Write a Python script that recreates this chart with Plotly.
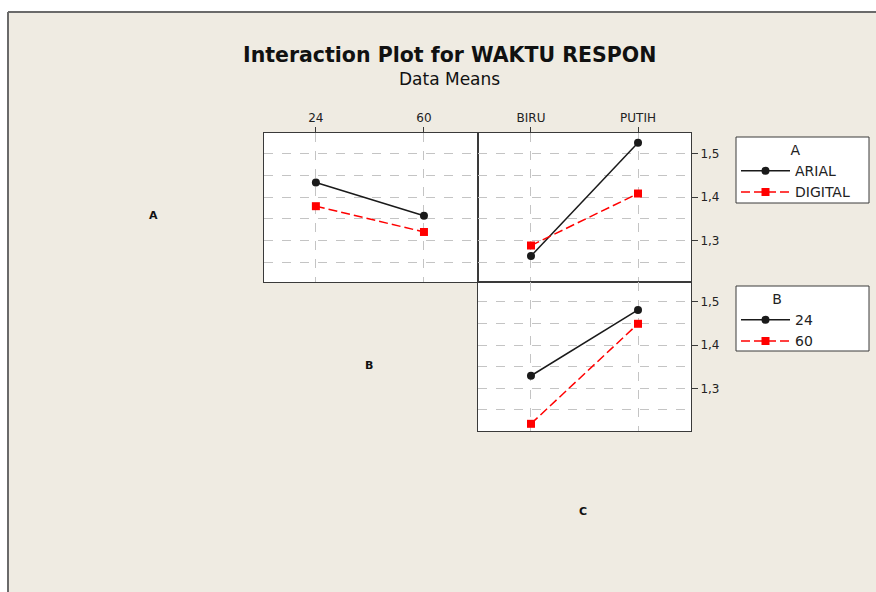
import plotly.graph_objects as go

# ---- data (means of WAKTU RESPON) ----
levels_B = ["24", "60"]
levels_C = ["BIRU", "PUTIH"]
A_names = ["ARIAL", "DIGITAL"]
B_names = ["24", "60"]

AB_arial = [1.433, 1.357]      # A=ARIAL across B
AB_digital = [1.379, 1.320]    # A=DIGITAL across B
AC_arial = [1.265, 1.524]      # A=ARIAL across C
AC_digital = [1.289, 1.408]    # A=DIGITAL across C
BC_24 = [1.329, 1.481]         # B=24 across C
BC_60 = [1.218, 1.449]         # B=60 across C
y_ticks = [1.3, 1.4, 1.5]

W, H = 876, 592
def px(x): return x / W
def py(y): return 1 - y / H

BLACK = "#1a1a1a"
RED = "#ff0000"
GRID = "#c4c4c4"
BEIGE = "#efebe2"
EDGE = "#3a3a3a"
FONT = "DejaVu Sans"

fig = go.Figure()

def add_pair(xs, y1, y2, xa, ya, n1, n2, legend, show):
    fig.add_trace(go.Scatter(x=xs, y=y1, xaxis=xa, yaxis=ya, name=n1, legend=legend,
                             showlegend=show, mode="lines+markers",
                             line=dict(color=BLACK, width=1.5),
                             marker=dict(symbol="circle", size=8, color=BLACK)))
    fig.add_trace(go.Scatter(x=xs, y=y2, xaxis=xa, yaxis=ya, name=n2, legend=legend,
                             showlegend=show, mode="lines+markers",
                             line=dict(color=RED, width=1.5, dash="9px,4px"),
                             marker=dict(symbol="square", size=8, color=RED)))

add_pair(levels_B, AB_arial, AB_digital, "x", "y", A_names[0], A_names[1], "legend", True)
add_pair(levels_C, AC_arial, AC_digital, "x2", "y2", A_names[0], A_names[1], "legend", False)
add_pair(levels_C, BC_24, BC_60, "x3", "y3", B_names[0], B_names[1], "legend2", True)

xdom1 = [px(264), px(478)]
xdom2 = [px(478), px(691)]
ydom_top = [py(282), py(133)]
ydom_bot = [py(431), py(282)]

common_x = dict(type="category", showline=True, mirror=True, linecolor=EDGE, linewidth=1,
                showgrid=True, gridcolor=GRID, griddash="dash", gridwidth=1,
                zeroline=False, tickfont=dict(family=FONT, size=12, color="#222"),
                fixedrange=True)
common_y = dict(showline=True, mirror=True, linecolor=EDGE, linewidth=1,
                showgrid=True, gridcolor=GRID, griddash="dash", gridwidth=1,
                tickmode="array", tickvals=y_ticks, zeroline=False,
                minor=dict(dtick=0.05, tick0=1.0, showgrid=True, gridcolor=GRID,
                           griddash="dash", gridwidth=1, ticks=""),
                tickfont=dict(family=FONT, size=12, color="#222"), fixedrange=True)

leg_common = dict(xanchor="left", yanchor="top", bgcolor="rgba(0,0,0,0)", borderwidth=0,
                  font=dict(family=FONT, size=14, color="#222"), itemwidth=49,
                  tracegroupgap=0, itemclick=False, itemdoubleclick=False)

fig.update_layout(
    width=W, height=H,
    margin=dict(l=0, r=0, t=0, b=0),
    paper_bgcolor=BEIGE, plot_bgcolor="white",
    separators=",.",
    xaxis=dict(common_x, domain=xdom1, anchor="y", side="top", range=[-0.48, 1.5],
               ticks="outside", ticklen=5, tickcolor=EDGE),
    yaxis=dict(common_y, domain=ydom_top, anchor="x", range=[1.2055, 1.5465],
               showticklabels=False, ticks=""),
    xaxis2=dict(common_x, domain=xdom2, anchor="y2", side="top", range=[-0.495, 1.495],
                ticks="outside", ticklen=5, tickcolor=EDGE),
    yaxis2=dict(common_y, domain=ydom_top, anchor="x2", side="right", range=[1.2055, 1.5465],
                ticks="outside", ticklen=6, tickcolor=EDGE),
    xaxis3=dict(common_x, domain=xdom2, anchor="y3", side="top", range=[-0.495, 1.495],
                showticklabels=False, ticks=""),
    yaxis3=dict(common_y, domain=ydom_bot, anchor="x3", side="right", range=[1.2014, 1.5455],
                ticks="outside", ticklen=6, tickcolor=EDGE),
    legend=dict(leg_common, x=px(736), y=py(137),
                title=dict(text="A", side="top center", font=dict(family=FONT, size=14, color="#222"))),
    legend2=dict(leg_common, x=px(736), y=py(286),
                 title=dict(text="B", side="top center", font=dict(family=FONT, size=14, color="#222"))),
    showlegend=True,
)

# page frame: white strip top/left with grey border line
fig.add_shape(type="rect", xref="paper", yref="paper", x0=-0.01, x1=1.01, y0=py(12), y1=1.01,
              fillcolor="white", line=dict(width=0), layer="below")
fig.add_shape(type="rect", xref="paper", yref="paper", x0=-0.01, x1=px(8), y0=-0.01, y1=1.01,
              fillcolor="white", line=dict(width=0), layer="below")
fig.add_shape(type="line", xref="paper", yref="paper", x0=px(8), x1=1.01, y0=py(12), y1=py(12),
              line=dict(color="#6a6a6a", width=2), layer="below")
fig.add_shape(type="line", xref="paper", yref="paper", x0=px(8), x1=px(8), y0=-0.01, y1=py(12),
              line=dict(color="#6a6a6a", width=2), layer="below")
# legend boxes
for y0, y1 in [(137, 203), (286, 351)]:
    fig.add_shape(type="rect", xref="paper", yref="paper", x0=px(736), x1=px(869),
                  y0=py(y1), y1=py(y0), fillcolor="white", line=dict(color=EDGE, width=1),
                  layer="below")

fig.add_annotation(text="<b>Interaction Plot for WAKTU RESPON</b>", xref="paper", yref="paper",
                   x=px(449), y=py(55), xanchor="center", yanchor="middle", showarrow=False,
                   font=dict(family="DejaVu Sans", size=20.5, color="#111"))
fig.add_annotation(text="Data Means", xref="paper", yref="paper",
                   x=px(449), y=py(79), xanchor="center", yanchor="middle", showarrow=False,
                   font=dict(family="DejaVu Sans", size=17, color="#111"))
for lab, x, y in [("A", 153, 215), ("B", 369, 365), ("C", 583, 511)]:
    fig.add_annotation(text="<b>" + lab + "</b>", xref="paper", yref="paper",
                       x=px(x), y=py(y), xanchor="center", yanchor="middle", showarrow=False,
                       font=dict(family=FONT, size=11, color="#111"))

fig.write_html("out.html", config={"displayModeBar": False},
               post_script="document.body.style.margin='0px';")
